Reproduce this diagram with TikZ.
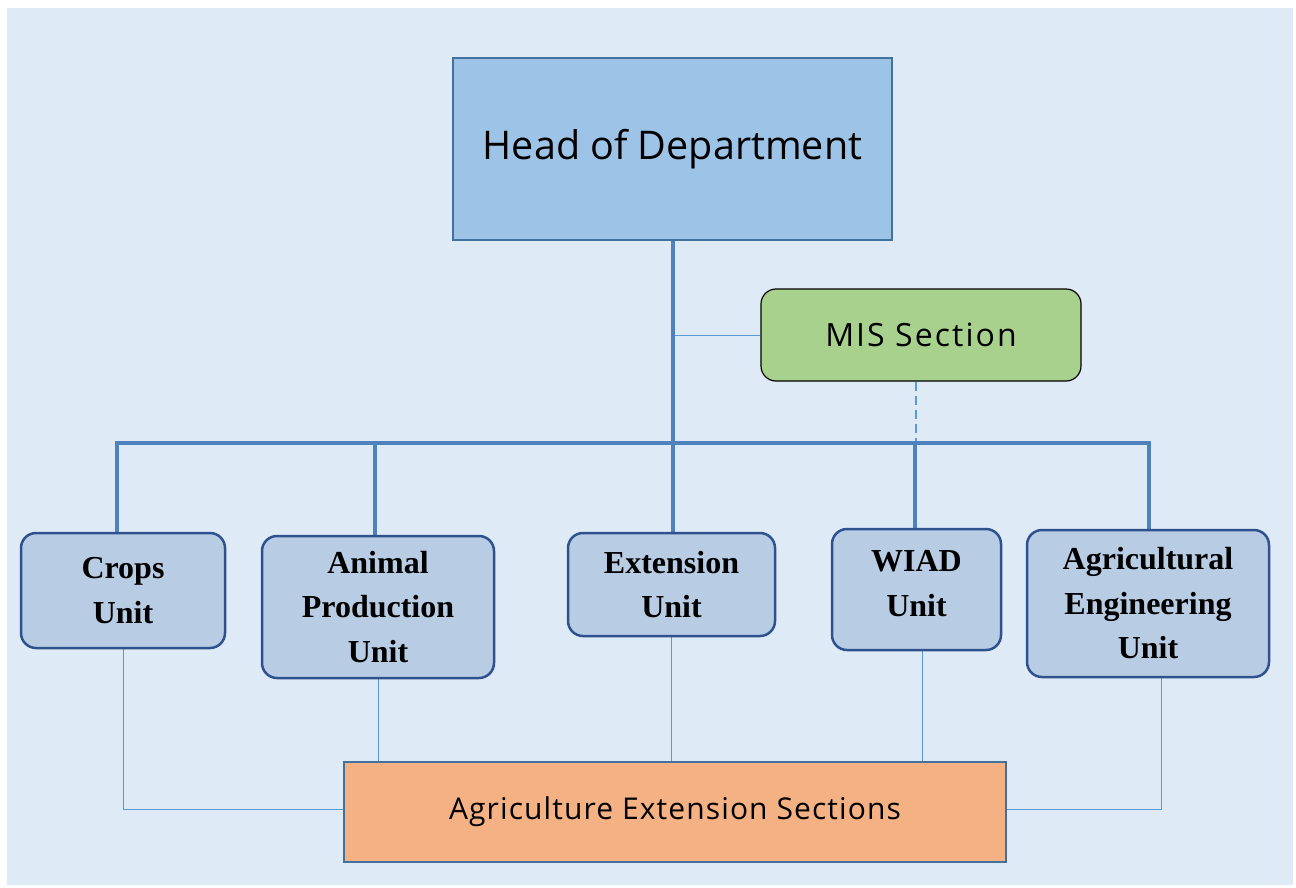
\documentclass[tikz,border=0pt]{standalone}
\usepackage{fontspec}
\setmainfont{Liberation Serif}
\newfontfamily\boxsans{Open Sans}
\usetikzlibrary{backgrounds}
\definecolor{bgblue}{HTML}{DEEAF6}
\definecolor{headfill}{HTML}{9DC3E6}
\definecolor{headline}{HTML}{41719C}
\definecolor{busblue}{HTML}{4F81BD}
\definecolor{thinblue}{HTML}{5B9BD5}
\definecolor{misfill}{HTML}{A9D18E}
\definecolor{unitfill}{HTML}{B8CCE4}
\definecolor{unitline}{HTML}{2F528F}
\definecolor{aesfill}{HTML}{F4B183}
\tikzset{
  headbox/.style={draw=headline, line width=2.5pt, fill=headfill, inner sep=0pt,
    font=\boxsans\fontsize{39.5}{48}\selectfont},
  misbox/.style={draw=black, line width=1.2pt, fill=misfill, rounded corners=15pt,
    inner sep=0pt, font=\boxsans\fontsize{32}{38}\selectfont\addfontfeature{LetterSpace=6.5}},
  unitbox/.style={draw=unitline, line width=2.5pt, fill=unitfill, rounded corners=15pt,
    inner sep=0pt, align=center, font=\bfseries\fontsize{32}{44.5}\selectfont},
  aesbox/.style={draw=headline, line width=2.5pt, fill=aesfill, inner sep=0pt,
    font=\boxsans\fontsize{30}{36}\selectfont\addfontfeature{LetterSpace=3.7}},
  busline/.style={draw=busblue, line width=4pt, line join=miter},
  thinline/.style={draw=thinblue, line width=1pt},
  dashline/.style={draw=thinblue, line width=2.8pt, dash pattern=on 9pt off 5pt},
}
\begin{document}
\begin{tikzpicture}[x=1pt,y=-1pt]
\useasboundingbox (0,0) rectangle (1296,887);

% bus and branch points
\coordinate (busL) at (117,443);
\coordinate (busR) at (1149,443);
\coordinate (busA) at (375,443);
\coordinate (busW) at (915,443);
\coordinate (misjoin) at (672,335);
\coordinate (misdrop) at (916,0);
\coordinate (wiadlow) at (922,0);
\coordinate (agrilow) at (1161,0);
\coordinate (cropsturn) at (123,809);
\coordinate (agriturn) at (1161,809);

% boxes
\node[headbox, minimum width=439pt, minimum height=182pt] (hod) at (672.5,149) {Head of Department};
\node[misbox, minimum width=320pt, minimum height=92pt] (mis) at (921,335) {MIS Section};
\node[unitbox, minimum width=204pt, minimum height=115pt] (crops) at (123,590.5) {Crops\\Unit};
\node[unitbox, minimum width=232pt, minimum height=142pt] (animal) at (378,607) {Animal\\Production\\Unit};
\node[unitbox, minimum width=207pt, minimum height=103pt] (ext) at (671.5,584.5) {Extension\\Unit};
\node[unitbox, minimum width=169pt, minimum height=121pt, text depth=12pt] (wiad) at (916.5,589.5) {WIAD\\Unit};
\node[unitbox, minimum width=242pt, minimum height=147pt] (agri) at (1148,603.5) {Agricultural\\Engineering\\Unit};
\node[aesbox, minimum width=662pt, minimum height=100pt] (aes) at (675,812) {Agriculture Extension Sections};

% connectors drawn behind the boxes
\begin{scope}[on background layer]
  \fill[white] (0,0) rectangle (1296,887);
  \fill[bgblue] (7,8) rectangle (1293,885);
  % thin links from the units down to the extension sections
  \draw[thinline] (crops.south) -- (cropsturn) -- (aes.west |- cropsturn);
  \draw[thinline] (animal.south) -- (animal.south |- aes.north);
  \draw[thinline] (ext.south) -- (ext.south |- aes.north);
  \draw[thinline] (wiadlow |- wiad.south) -- (wiadlow |- aes.north);
  \draw[thinline] (agrilow |- agri.south) -- (agriturn) -- (aes.east |- agriturn);
  % link to the MIS section
  \draw[thinline] (misjoin) -- (mis.west);
  \draw[dashline] (misdrop |- mis.south) -- (misdrop |- busW);
  % main reporting lines
  \draw[busline] (hod.south) -- (hod.south |- ext.north);
  \draw[busline] (busL |- crops.north) -- (busL) -- (busR) -- (busR |- agri.north);
  \draw[busline] (busA) -- (busA |- animal.north);
  \draw[busline] (busW) -- (busW |- wiad.north);
\end{scope}
\end{tikzpicture}
\end{document}
